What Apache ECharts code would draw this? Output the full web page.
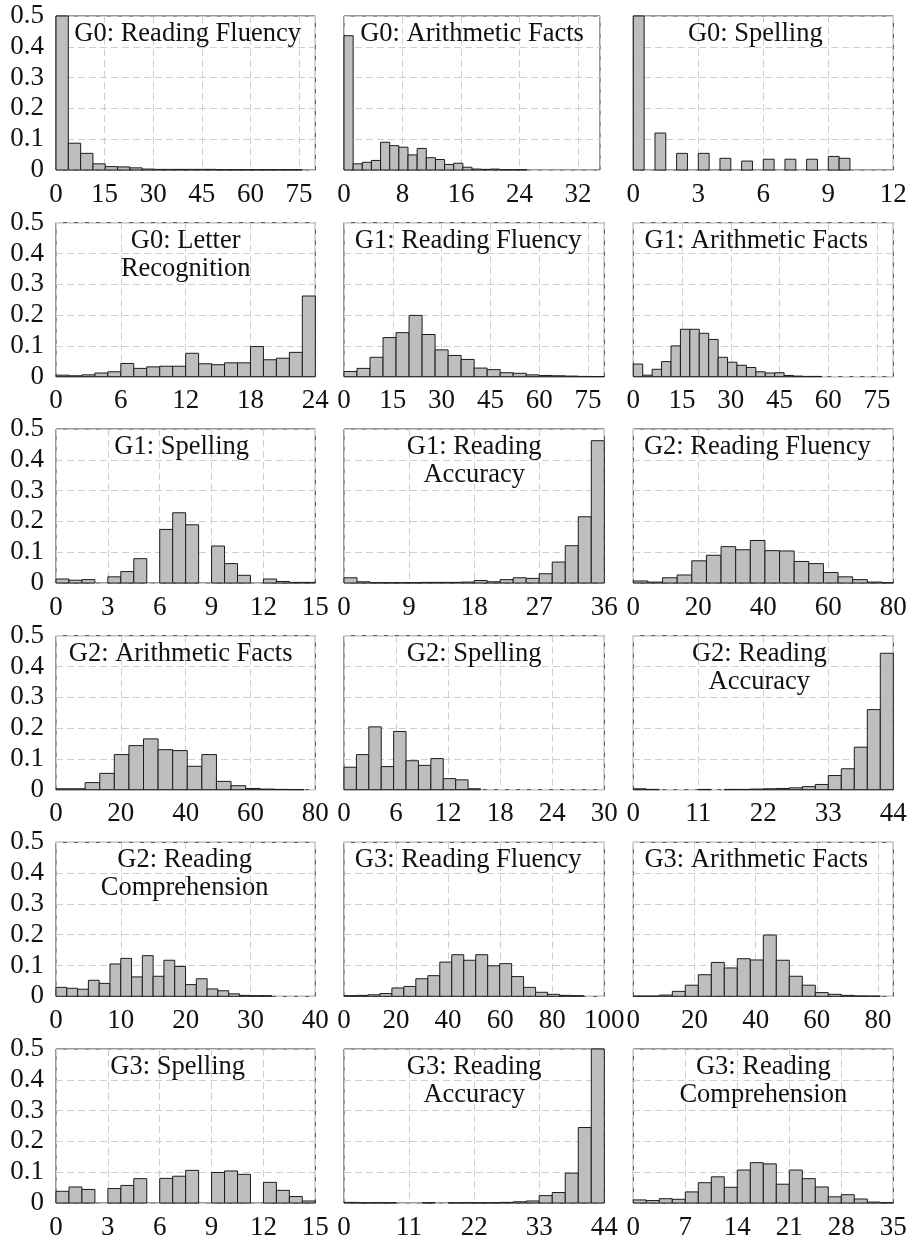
<!DOCTYPE html>
<html><head><meta charset="utf-8">
<script src="https://cdn.jsdelivr.net/npm/echarts@6/dist/echarts.min.js"></script>
<style>html,body{margin:0;padding:0;background:#fff}#c{width:912px;height:1241px}</style>
</head><body><div id="c"></div>
<script>
// ---------------- data ----------------
const titles = [
  'G0: Reading Fluency', 'G0: Arithmetic Facts', 'G0: Spelling',
  'G0: Letter\nRecognition', 'G1: Reading Fluency', 'G1: Arithmetic Facts',
  'G1: Spelling', 'G1: Reading\nAccuracy', 'G2: Reading Fluency',
  'G2: Arithmetic Facts', 'G2: Spelling', 'G2: Reading\nAccuracy',
  'G2: Reading\nComprehension', 'G3: Reading Fluency', 'G3: Arithmetic Facts',
  'G3: Spelling', 'G3: Reading\nAccuracy', 'G3: Reading\nComprehension'
];
// histogram bin range (20 equal bins) for each panel
const binLo = [0, 0, 0, 0, 0, 0, 0, 0, 0, 0, 0, 0, 0, 0, 0, 0, 0, 0];
const binHi = [76, 25, 10, 24, 80, 58, 15, 36, 90, 90, 28.6, 44, 33.3, 92, 85, 15, 44, 35];
// x axis range and tick step
const axisMax = [80, 35, 12, 24, 80, 80, 15, 36, 80, 80, 30, 44, 40, 100, 85, 15, 44, 35];
const tickStep = [15, 8, 3, 6, 15, 15, 3, 9, 20, 20, 6, 11, 10, 20, 20, 3, 11, 7];
const yTickLabels = ['0', '0.1', '0.2', '0.3', '0.4', '0.5'];

// relative frequency per bin
const g0ReadingFluency = [0.78, 0.087, 0.054, 0.02, 0.011, 0.01, 0.007, 0.003, 0.002, 0.002, 0.002, 0.002, 0.002, 0.001, 0.001, 0.001, 0.001, 0.001, 0.001, 0.001];
const g0ArithmeticFacts = [0.436, 0.02, 0.025, 0.031, 0.09, 0.079, 0.074, 0.049, 0.07, 0.04, 0.034, 0.018, 0.022, 0.009, 0.003, 0.002, 0.003, 0.001, 0.001, 0.001];
const g0Spelling = [0.518, 0, 0.12, 0, 0.054, 0, 0.054, 0, 0.038, 0, 0.029, 0, 0.035, 0, 0.035, 0, 0.035, 0, 0.044, 0.038];
const g0LetterRecognition = [0.005, 0.003, 0.006, 0.012, 0.016, 0.043, 0.027, 0.032, 0.034, 0.034, 0.076, 0.042, 0.039, 0.045, 0.045, 0.098, 0.055, 0.06, 0.079, 0.262];
const g1ReadingFluency = [0.017, 0.027, 0.063, 0.127, 0.143, 0.199, 0.137, 0.087, 0.069, 0.056, 0.028, 0.023, 0.013, 0.011, 0.006, 0.004, 0.003, 0.002, 0.001, 0.0005];
const g1ArithmeticFacts = [0.041, 0.005, 0.024, 0.049, 0.10, 0.154, 0.154, 0.141, 0.121, 0.063, 0.047, 0.037, 0.030, 0.016, 0.012, 0.013, 0.004, 0.002, 0.001, 0.001];
const g1Spelling = [0.013, 0.009, 0.011, 0, 0.02, 0.037, 0.079, 0, 0.174, 0.228, 0.189, 0, 0.12, 0.063, 0.025, 0, 0.013, 0.005, 0.002, 0.002];
const g1ReadingAccuracy = [0.017, 0.004, 0.001, 0.001, 0.001, 0.001, 0.002, 0.002, 0.002, 0.003, 0.008, 0.004, 0.011, 0.017, 0.015, 0.030, 0.068, 0.121, 0.215, 0.462];
const g2ReadingFluency = [0.0065, 0.003, 0.017, 0.026, 0.072, 0.09, 0.118, 0.108, 0.138, 0.105, 0.104, 0.07, 0.063, 0.034, 0.02, 0.011, 0.003, 0.001, 0, 0.0005];
const g2ArithmeticFacts = [0.003, 0.003, 0.023, 0.053, 0.114, 0.143, 0.165, 0.13, 0.127, 0.076, 0.114, 0.027, 0.013, 0.004, 0.002, 0.001, 0.0005, 0, 0, 0];
const g2Spelling = [0.073, 0.114, 0.204, 0.075, 0.189, 0.094, 0.079, 0.101, 0.036, 0.032, 0.003, 0, 0, 0, 0, 0, 0, 0, 0, 0];
const g2ReadingAccuracy = [0.003, 0.001, 0, 0, 0, 0.001, 0, 0.001, 0.001, 0.002, 0.003, 0.004, 0.006, 0.01, 0.017, 0.046, 0.068, 0.138, 0.26, 0.443];
const g2ReadingComprehension = [0.029, 0.026, 0.023, 0.052, 0.042, 0.105, 0.123, 0.063, 0.132, 0.065, 0.117, 0.097, 0.038, 0.057, 0.024, 0.018, 0.008, 0.003, 0.002, 0.002];
const g3ReadingFluency = [0.002, 0.003, 0.005, 0.009, 0.027, 0.032, 0.057, 0.067, 0.111, 0.135, 0.117, 0.135, 0.099, 0.106, 0.064, 0.029, 0.013, 0.0065, 0.003, 0.002];
const g3ArithmeticFacts = [0.0005, 0.0005, 0.004, 0.016, 0.036, 0.07, 0.11, 0.092, 0.122, 0.118, 0.199, 0.117, 0.065, 0.036, 0.012, 0.0065, 0.003, 0.001, 0.0005, 0];
const g3Spelling = [0.038, 0.052, 0.044, 0, 0.047, 0.057, 0.079, 0, 0.08, 0.087, 0.106, 0, 0.099, 0.104, 0.093, 0, 0.067, 0.041, 0.021, 0.0065];
const g3ReadingAccuracy = [0.002, 0.001, 0.001, 0.001, 0, 0, 0.001, 0, 0.001, 0.001, 0.001, 0.001, 0.002, 0.004, 0.0065, 0.024, 0.034, 0.097, 0.245, 0.58];
const g3ReadingComprehension = [0.01, 0.008, 0.014, 0.012, 0.036, 0.066, 0.085, 0.051, 0.107, 0.131, 0.127, 0.061, 0.107, 0.079, 0.052, 0.02, 0.027, 0.013, 0.003, 0.001];

const panelValues = [
  g0ReadingFluency, g0ArithmeticFacts, g0Spelling,
  g0LetterRecognition, g1ReadingFluency, g1ArithmeticFacts,
  g1Spelling, g1ReadingAccuracy, g2ReadingFluency,
  g2ArithmeticFacts, g2Spelling, g2ReadingAccuracy,
  g2ReadingComprehension, g3ReadingFluency, g3ArithmeticFacts,
  g3Spelling, g3ReadingAccuracy, g3ReadingComprehension
];

// ---------------- layout / style ----------------
const FONT = "'Liberation Serif', 'Times New Roman', Times, serif";
const FS_TICK = 27;
const FS_TITLE = 26.5;
const colLeft = [56, 344, 633.3];
const colWidth = [259.3, 260.3, 260];
const rowTop = [16, 222.7, 429, 635.7, 842.3, 1049];
const plotH = 154;
const titleDx = [2, 0, -8, 0, -6, -7, -4, 0, -6, -5, 0, -4, -1, -6, -7, -8, 0, 0];

const grids = [], xAxes = [], yAxes = [], series = [], graphics = [];
panelValues.forEach((vals, i) => {
  const r = Math.floor(i / 3), c = i % 3;
  let w = colWidth[c];
  if (r === 0 && c === 1) w = 256;
  const left = colLeft[c], top = rowTop[r];
  grids.push({left: left, top: top, width: w, height: plotH, containLabel: false,
    show: true, borderColor: '#333', borderWidth: 1, backgroundColor: 'transparent', z: 0});
  const step = tickStep[i];
  xAxes.push({
    type: 'value', gridIndex: i, min: 0, max: axisMax[i], interval: step,
    axisLine: {show: false}, axisTick: {show: false},
    splitLine: {show: true, lineStyle: {color: '#cfcfcf', width: 1, type: [7, 4]}},
    axisLabel: {
      show: true, margin: 11, color: '#111', fontFamily: FONT, fontSize: FS_TICK,
      formatter: v => {
        const k = v / step;
        return Math.abs(k - Math.round(k)) < 1e-6 ? String(Math.round(v * 100) / 100) : '';
      }
    }
  });
  yAxes.push({
    type: 'value', gridIndex: i, min: 0, max: 0.5, interval: 0.1,
    axisLine: {show: false}, axisTick: {show: false},
    splitLine: {show: true, lineStyle: {color: '#cfcfcf', width: 1, type: [7, 4]}},
    axisLabel: {
      show: c === 0, margin: 12, color: '#111', fontFamily: FONT, fontSize: FS_TICK,
      padding: [4, 0, 0, 0],
      formatter: v => yTickLabels[Math.round(v * 10)]
    }
  });
  const bw = (binHi[i] - binLo[i]) / vals.length;
  series.push({
    type: 'custom', xAxisIndex: i, yAxisIndex: i, z: 2,
    encode: {x: [0, 1], y: 2},
    data: vals.map((v, k) => [binLo[i] + k * bw, binLo[i] + (k + 1) * bw, v]),
    renderItem: (params, api) => {
      const y = api.value(2);
      if (!(y > 0)) return null;
      const p0 = api.coord([api.value(0), 0]);
      const p1 = api.coord([api.value(1), y]);
      const cs = params.coordSys;
      const rect = echarts.graphic.clipRectByRect(
        {x: p0[0], y: p1[1], width: p1[0] - p0[0], height: p0[1] - p1[1]},
        {x: cs.x, y: cs.y, width: cs.width, height: cs.height});
      if (!rect) return null;
      return {type: 'rect', shape: rect,
        style: {fill: '#bebebe', stroke: '#1c1c1c', lineWidth: 1}};
    }
  });
  graphics.push({
    type: 'text', x: left + w / 2 + titleDx[i], y: top + 4, z: 10,
    style: {text: titles[i], fill: '#111', fontFamily: FONT, fontSize: FS_TITLE,
      lineHeight: 28, align: 'center', verticalAlign: 'top'}
  });
});

const chart = echarts.init(document.getElementById('c'), null, {renderer: 'canvas', width: 912, height: 1241});
chart.setOption({
  backgroundColor: '#fff',
  animation: false,
  grid: grids, xAxis: xAxes, yAxis: yAxes, series: series,
  graphic: graphics
});
</script>
</body></html>
